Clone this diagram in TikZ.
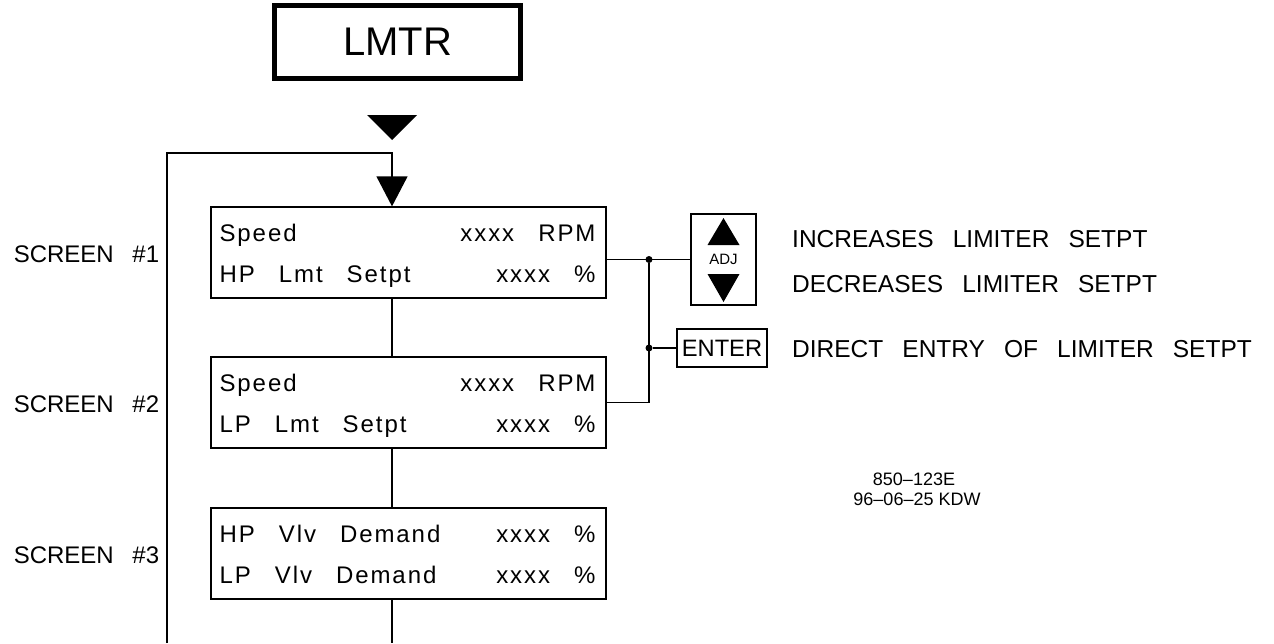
\documentclass[tikz,border=0pt]{standalone}
\usepackage{fontspec}
\setmainfont{Liberation Sans}
\newfontfamily\capsfont[WordSpace=2.8]{Liberation Sans}
\newfontfamily\lcdfont[LetterSpace=8,WordSpace=2.8]{Liberation Sans}
\usetikzlibrary{
  arrows.meta,
  calc,
  positioning
}
\tikzset{
  wire/.style={line width=1.3pt},
  flow/.style={wire, -{Triangle[length=30pt, width=31pt]}},
  menubox/.style={
    draw,
    line width=5pt,
    minimum width=246pt,
    minimum height=73pt,
    inner sep=0pt,
    font=\fontsize{40}{44}\selectfont
  },
  screenbox/.style={
    draw,
    line width=1.3pt,
    minimum width=395pt,
    minimum height=91pt,
    inner sep=0pt
  },
  lcdtext/.style={inner sep=0pt, font=\lcdfont\fontsize{24}{26}\selectfont},
  scrname/.style={inner sep=0pt, anchor=base east, font=\capsfont\fontsize{24}{27}\selectfont},
  note/.style={inner sep=0pt, anchor=base west, font=\capsfont\fontsize{24.5}{27}\selectfont},
  keybox/.style={draw, line width=1.3pt, inner sep=0pt},
  junction/.style={circle, fill, inner sep=0pt, minimum size=7pt},
  stamp/.style={inner sep=0pt, anchor=base, font=\fontsize{18}{20}\selectfont}
}

\begin{document}
\begin{tikzpicture}[x=1pt, y=-1pt]
  \useasboundingbox (0,0) rectangle (1274,643);

  \node[menubox] (lmtr) at (397.5,42) {LMTR};
  \fill (367,115) -- (417,115) -- (392,140) -- cycle;

  % screens
  \node[screenbox] (s1) at (408.5,252.5) {};
  \node[screenbox] (s2) at (408.5,402.5) {};
  \node[screenbox] (s3) at (408.5,553.5) {};

  \node[lcdtext, anchor=base west] (s1a) at ($(s1.north west)+(9,35)$) {Speed};
  \node[lcdtext, anchor=base east] (s1b) at ($(s1.north east)+(-11,35)$) {xxxx RPM};
  \node[lcdtext, anchor=base west] (s1c) at ($(s1.north west)+(9,76)$) {HP Lmt Setpt};
  \node[lcdtext, anchor=base east] (s1d) at ($(s1.north east)+(-11,76)$) {xxxx \%};

  \node[lcdtext, anchor=base west] (s2a) at ($(s2.north west)+(9,35)$) {Speed};
  \node[lcdtext, anchor=base east] (s2b) at ($(s2.north east)+(-11,35)$) {xxxx RPM};
  \node[lcdtext, anchor=base west] (s2c) at ($(s2.north west)+(9,76)$) {LP Lmt Setpt};
  \node[lcdtext, anchor=base east] (s2d) at ($(s2.north east)+(-11,76)$) {xxxx \%};

  \node[lcdtext, anchor=base west] (s3a) at ($(s3.north west)+(9,35)$) {HP Vlv Demand};
  \node[lcdtext, anchor=base east] (s3b) at ($(s3.north east)+(-11,35)$) {xxxx \%};
  \node[lcdtext, anchor=base west] (s3c) at ($(s3.north west)+(9,76)$) {LP Vlv Demand};
  \node[lcdtext, anchor=base east] (s3d) at ($(s3.north east)+(-11,76)$) {xxxx \%};

  \node[scrname] (n1) at ($(s1.west)+(-51,10)$) {SCREEN \#1};
  \node[scrname] (n2) at ($(s2.west)+(-51,10)$) {SCREEN \#2};
  \node[scrname] (n3) at ($(s3.west)+(-51,10)$) {SCREEN \#3};

  % loop back to screen 1
  \coordinate (entry) at (392,153);
  \coordinate (loopend) at (167,643);
  \coordinate (tailend) at (392,643);
  \draw[flow] (loopend) |- (entry) -- (entry |- s1.north);
  \draw[wire] (s1.south -| entry) -- (s2.north -| entry);
  \draw[wire] (s2.south -| entry) -- (s3.north -| entry);
  \draw[wire] (s3.south -| entry) -- (tailend);

  % keys
  \node[keybox, minimum width=65pt, minimum height=91pt] (adj) at (723.5,259.5) {};
  \node[inner sep=0pt, font=\fontsize{15}{17}\selectfont] (adjtxt) at (adj.center) {ADJ};
  \fill ($(adj.center)+(-16,-14.5)$) -- ($(adj.center)+(16,-14.5)$) -- ($(adj.center)+(0,-41.5)$) -- cycle;
  \fill ($(adj.center)+(-16,14.5)$) -- ($(adj.center)+(16,14.5)$) -- ($(adj.center)+(0,42.5)$) -- cycle;
  \node[keybox, minimum width=90pt, minimum height=38pt, font=\fontsize{23.7}{26}\selectfont] (enter) at (722,348) {ENTER};

  \coordinate (bus) at (649,0);
  \node[junction] (j1) at (bus |- adj.west) {};
  \node[junction] (j2) at (bus |- enter.west) {};
  \draw[wire] (s1.east |- adj.west) -- (adj.west);
  \draw[wire] (j2) -- (enter.west);
  \draw[wire] (s2.east) -| (j1);

  \node[note] (inc) at (792,247) {INCREASES LIMITER SETPT};
  \node[note] (dec) at (792,292) {DECREASES LIMITER SETPT};
  \node[note] (dir) at (792,357) {DIRECT ENTRY OF LIMITER SETPT};

  \node[stamp] (dwg) at (914,485) {850–123E};
  \node[stamp] (rev) at (917,505) {96–06–25 KDW};
\end{tikzpicture}
\end{document}
